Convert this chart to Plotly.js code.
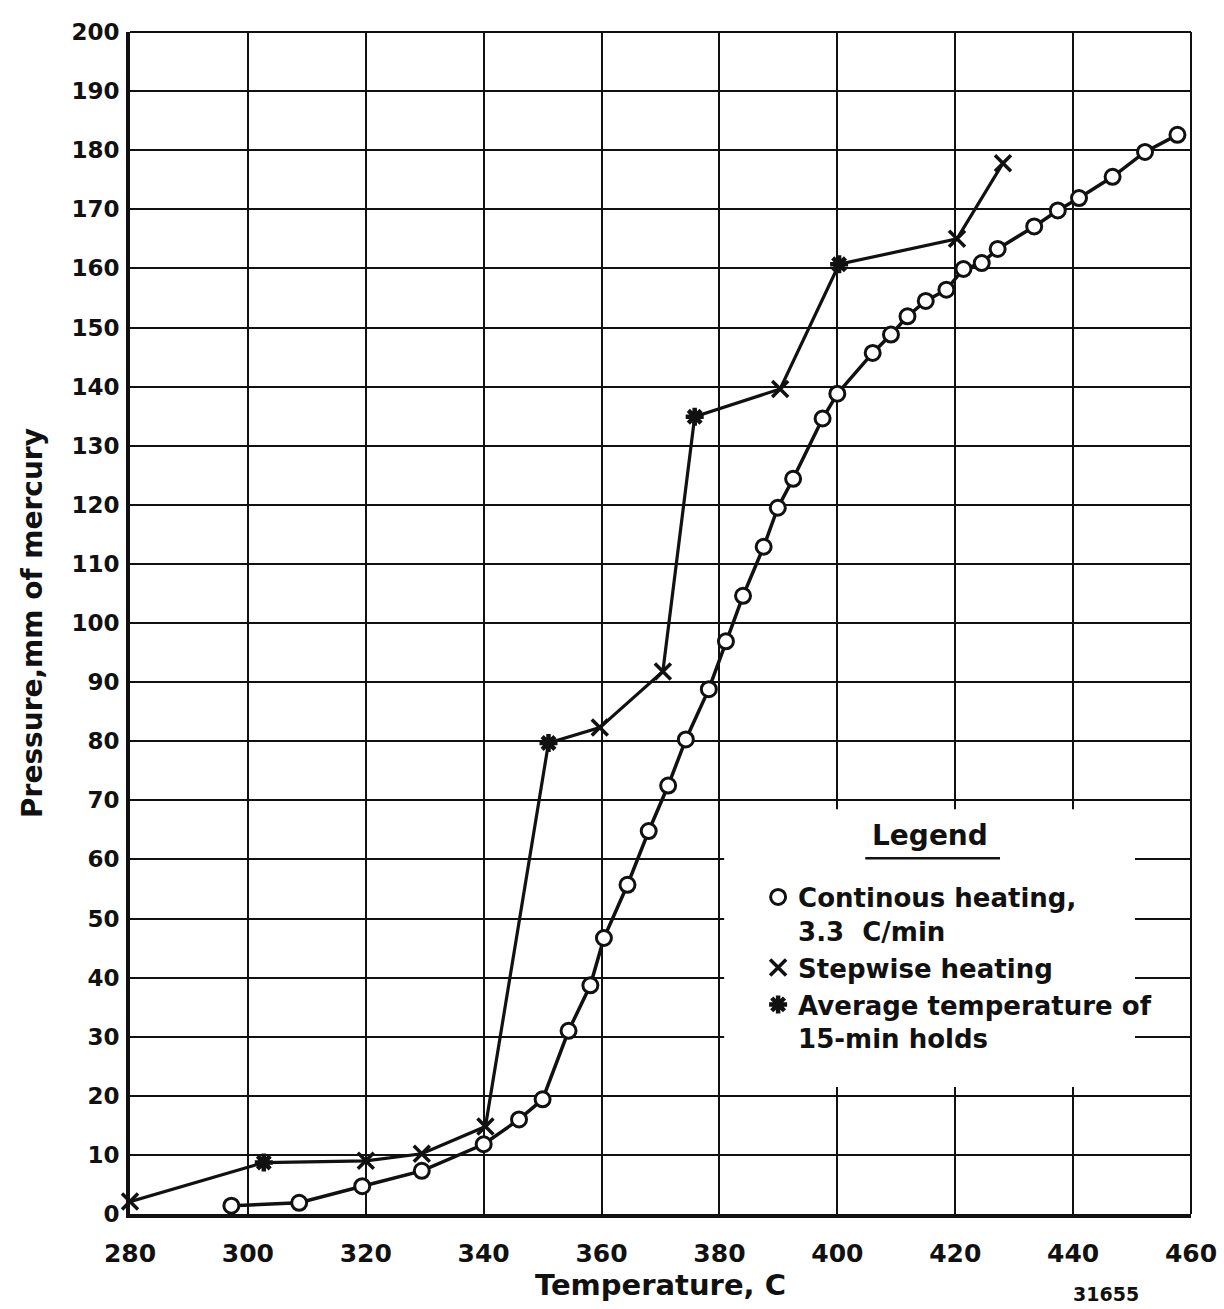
<!DOCTYPE html>
<html>
<head>
<meta charset="utf-8">
<script src="https://cdn.plot.ly/plotly-3.0.1.min.js"></script>
<style>
  html, body { margin: 0; padding: 0; background: #ffffff; }
  #chart { width: 1224px; height: 1309px; }
</style>
</head>
<body>
<div id="chart"></div>
<script>
// Continuous heating at 3.3 C/min: temperature (C) and pressure (mm Hg)
const contTemp = [297.2, 308.7, 319.4, 329.5, 340.0, 346.0, 350.0, 354.4, 358.1, 360.4,
                  364.4, 368.0, 371.3, 374.3, 378.2, 381.1, 384.0, 387.5, 389.9, 392.5,
                  397.5, 400.0, 406.0, 409.1, 411.9, 415.0, 418.5, 421.4, 424.5, 427.2,
                  433.4, 437.4, 441.0, 446.7, 452.2, 457.7];
const contPress = [1.4, 1.9, 4.7, 7.3, 11.8, 16.0, 19.4, 31.0, 38.7, 46.7,
                   55.7, 64.8, 72.5, 80.3, 88.8, 96.9, 104.6, 112.9, 119.5, 124.4,
                   134.6, 138.8, 145.7, 148.8, 151.9, 154.5, 156.4, 159.9, 160.9, 163.3,
                   167.1, 169.8, 171.9, 175.5, 179.7, 182.6];

// Stepwise heating readings
const stepTemp  = [280.0, 320.0, 329.5, 340.3, 359.7, 370.4, 390.3, 420.3, 428.1];
const stepPress = [2.1, 9.0, 10.2, 14.8, 82.3, 91.8, 139.6, 165.0, 177.8];

// Average temperature of the 15-min holds
const holdTemp  = [302.7, 351.0, 375.8, 400.3];
const holdPress = [8.7, 79.7, 134.9, 160.7];

// Axis ticks
const xTicks = [280, 300, 320, 340, 360, 380, 400, 420, 440, 460];
const yTicks = [0, 10, 20, 30, 40, 50, 60, 70, 80, 90, 100, 110, 120, 130, 140, 150, 160, 170, 180, 190, 200];

// The stepwise curve runs through both the readings and the hold averages, in temperature order
const stepPath = stepTemp.map((t, i) => [t, stepPress[i]])
  .concat(holdTemp.map((t, i) => [t, holdPress[i]]))
  .sort((a, b) => a[0] - b[0]);

const FONT = 'DejaVu Sans, Liberation Sans, sans-serif';
const INK = '#111111';

const traces = [
  {
    x: contTemp, y: contPress, mode: 'lines', showlegend: false,
    line: { color: INK, width: 3.5 }, hoverinfo: 'skip', cliponaxis: false
  },
  {
    x: stepPath.map(p => p[0]), y: stepPath.map(p => p[1]), mode: 'lines', showlegend: false,
    line: { color: INK, width: 3.2 }, hoverinfo: 'skip', cliponaxis: false
  },
  {
    x: contTemp, y: contPress, mode: 'markers', name: 'Continous heating,<br>3.3  C/min',
    marker: { symbol: 'circle', size: 15, color: '#ffffff', line: { color: INK, width: 3 } },
    cliponaxis: false
  },
  {
    x: stepTemp, y: stepPress, mode: 'markers', name: 'Stepwise heating',
    marker: { symbol: 'x-thin', size: 16, color: INK, line: { color: INK, width: 3.5 } },
    cliponaxis: false
  },
  {
    x: holdTemp, y: holdPress, mode: 'markers', name: 'Average temperature of<br>15-min holds',
    marker: { symbol: 'asterisk', size: 15, color: INK, line: { color: INK, width: 4.5 } },
    cliponaxis: false
  }
];

const layout = {
  width: 1224, height: 1309,
  paper_bgcolor: '#ffffff', plot_bgcolor: '#ffffff',
  margin: { l: 130, r: 33, t: 32, b: 95 },
  font: { family: FONT, color: INK },
  xaxis: {
    range: [280, 460], tickvals: xTicks, ticktext: xTicks.map(String),
    showgrid: true, gridcolor: INK, gridwidth: 2,
    showline: true, linecolor: INK, linewidth: 4, zeroline: false,
    ticks: '', ticklabelstandoff: 14,
    tickfont: { family: FONT, size: 25, weight: 700, color: INK },
    title: { text: 'Temperature, C', font: { family: FONT, size: 29, weight: 600, color: INK }, standoff: 4 }
  },
  yaxis: {
    range: [0, 200], tickvals: yTicks, ticktext: yTicks.map(String),
    showgrid: true, gridcolor: INK, gridwidth: 2,
    showline: true, linecolor: INK, linewidth: 4, zeroline: false,
    ticks: '', ticklabelstandoff: 2,
    tickfont: { family: FONT, size: 23, weight: 700, color: INK },
    title: { text: 'Pressure,mm of mercury', font: { family: FONT, size: 28, weight: 600, color: INK }, standoff: 22 }
  },
  showlegend: true,
  legend: {
    x: 0.592, y: 0.288, xanchor: 'left', yanchor: 'top',
    bgcolor: 'rgba(0,0,0,0)', borderwidth: 0, valign: 'top',
    font: { family: FONT, size: 26, weight: 600, color: INK },
    itemwidth: 30, tracegroupgap: 0
  },
  shapes: [
    // white panel behind the legend, above the grid
    { type: 'rect', xref: 'x', yref: 'y', x0: 380.8, x1: 450.5, y0: 21.5, y1: 68.5,
      fillcolor: '#ffffff', line: { width: 0 }, layer: 'between' },
    // frame on the top and right edges
    { type: 'line', xref: 'paper', yref: 'paper', x0: 1, x1: 1, y0: 0, y1: 1,
      line: { color: INK, width: 2 } },
    { type: 'line', xref: 'paper', yref: 'paper', x0: 0, x1: 1, y0: 1, y1: 1,
      line: { color: INK, width: 2 } },
    // underline of the legend heading
    { type: 'line', xref: 'paper', yref: 'paper', x0: 0.693, x1: 0.82, y0: 0.301, y1: 0.301,
      line: { color: INK, width: 2.5 } }
  ],
  annotations: [
    { text: 'Legend', xref: 'paper', yref: 'paper', x: 0.754, y: 0.3206,
      xanchor: 'center', yanchor: 'middle', showarrow: false,
      font: { family: FONT, size: 28, weight: 600, color: INK } },
    { text: '31655', xref: 'paper', yref: 'paper', x: 0.92, y: -0.068,
      xanchor: 'center', yanchor: 'middle', showarrow: false,
      font: { family: FONT, size: 19, weight: 700, color: INK } }
  ]
};

Plotly.newPlot('chart', traces, layout, { displayModeBar: false, staticPlot: true });
</script>
</body>
</html>
